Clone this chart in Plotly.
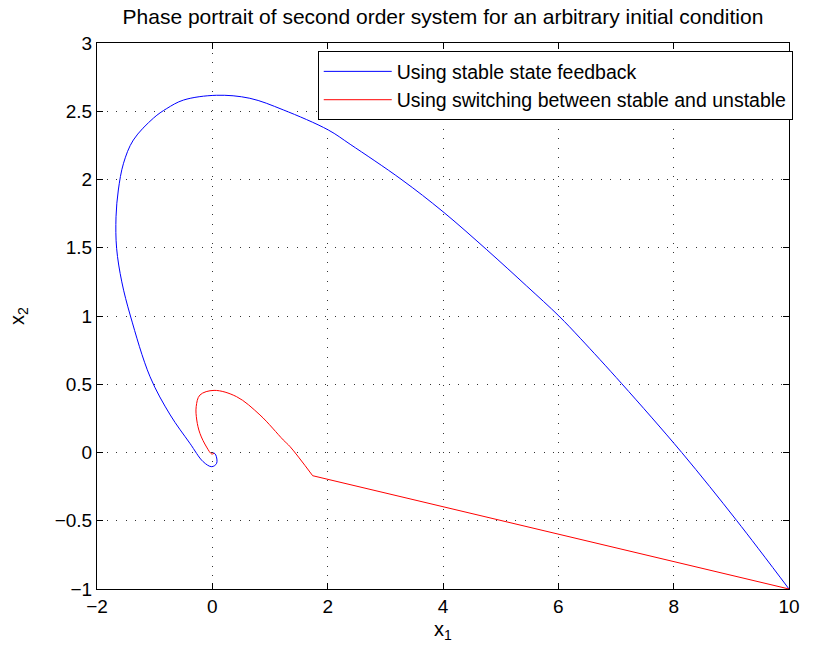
import plotly.graph_objects as go

# Blue trajectory: stable state feedback (x1, x2)
blue_x1 = [10.0, 9.09, 8.14, 7.10, 6.38, 6.01, 5.45, 4.76, 4.00, 3.28, 2.39, 2.01, 1.23, 0.65, 0.07,
           -0.50, -0.79, -1.02, -1.37, -1.54, -1.63, -1.67, -1.66, -1.57, -1.42, -1.08, -0.73, -0.39, -0.16,
           -0.01, 0.075, 0.06, 0.02]
blue_x2 = [-1.0, -0.497, 0.0, 0.504, 0.837, 1.0, 1.22, 1.485, 1.764, 2.0, 2.258, 2.363, 2.51, 2.595, 2.617,
           2.582, 2.52, 2.45, 2.289, 2.119, 1.923, 1.727, 1.496, 1.25, 1.0, 0.555, 0.275, 0.068, -0.067,
           -0.104, -0.079, -0.018, 0.0]

# Red trajectory: switching between stable and unstable
red_jump_x1 = [10.0, 1.74]
red_jump_x2 = [-1.0, -0.17]
red_x1 = [1.74, 1.35, 1.23, 0.826, 0.42, 0.03, -0.215, -0.28, -0.27, -0.215, -0.10, -0.01, 0.03]
red_x2 = [-0.17, 0.042, 0.092, 0.275, 0.409, 0.455, 0.421, 0.336, 0.238, 0.14, 0.04, -0.011, -0.006]

x_ticks = [-2, 0, 2, 4, 6, 8, 10]
y_ticks = [-1, -0.5, 0, 0.5, 1, 1.5, 2, 2.5, 3]
y_ticklabels = ["\u22121", "\u22120.5", "0", "0.5", "1", "1.5", "2", "2.5", "3"]
x_ticklabels = ["\u22122", "0", "2", "4", "6", "8", "10"]

FONT = "Liberation Sans, Arial, sans-serif"

fig = go.Figure()
fig.add_trace(go.Scatter(x=blue_x1, y=blue_x2, mode="lines",
                         line=dict(color="#0000ff", width=1, shape="spline", smoothing=1.0),
                         name="Using stable state feedback"))
fig.add_trace(go.Scatter(x=red_jump_x1, y=red_jump_x2, mode="lines", line=dict(color="#ff0000", width=1),
                         name="Using switching between stable and unstable", legendgroup="red"))
fig.add_trace(go.Scatter(x=red_x1, y=red_x2, mode="lines",
                         line=dict(color="#ff0000", width=1, shape="spline", smoothing=1.0),
                         name="Using switching between stable and unstable", legendgroup="red", showlegend=False))

axis_common = dict(showline=True, linecolor="black", linewidth=1, mirror="ticks", ticks="inside", ticklen=6,
                   tickcolor="black", showgrid=True, gridcolor="#333333", griddash="1px,8.5px", gridwidth=1,
                   zeroline=False, tickfont=dict(family=FONT, size=19, color="black"))

fig.update_layout(
    width=831, height=653,
    margin=dict(l=97, r=42, t=43, b=64),
    paper_bgcolor="white", plot_bgcolor="white",
    title=dict(text="Phase portrait of second order system for an arbitrary initial condition",
               x=0.533, xanchor="center", y=0.974, yanchor="middle",
               font=dict(family=FONT, size=21, color="black")),
    xaxis=dict(range=[-2, 10], tickvals=x_ticks, ticktext=x_ticklabels,
               title=dict(text="x<sub>1</sub>", font=dict(family=FONT, size=20, color="black"), standoff=6),
               **axis_common),
    yaxis=dict(range=[-1, 3], tickvals=y_ticks, ticktext=y_ticklabels,
               title=dict(text="x<sub>2</sub>", font=dict(family=FONT, size=20, color="black"), standoff=24),
               **axis_common),
    legend=dict(x=0.319, y=0.985, xanchor="left", yanchor="top", bgcolor="white", bordercolor="black",
                borderwidth=1, font=dict(family=FONT, size=19.5, color="black"), itemwidth=68,
                tracegroupgap=0),
    showlegend=True,
)

fig.write_html("out.html")
